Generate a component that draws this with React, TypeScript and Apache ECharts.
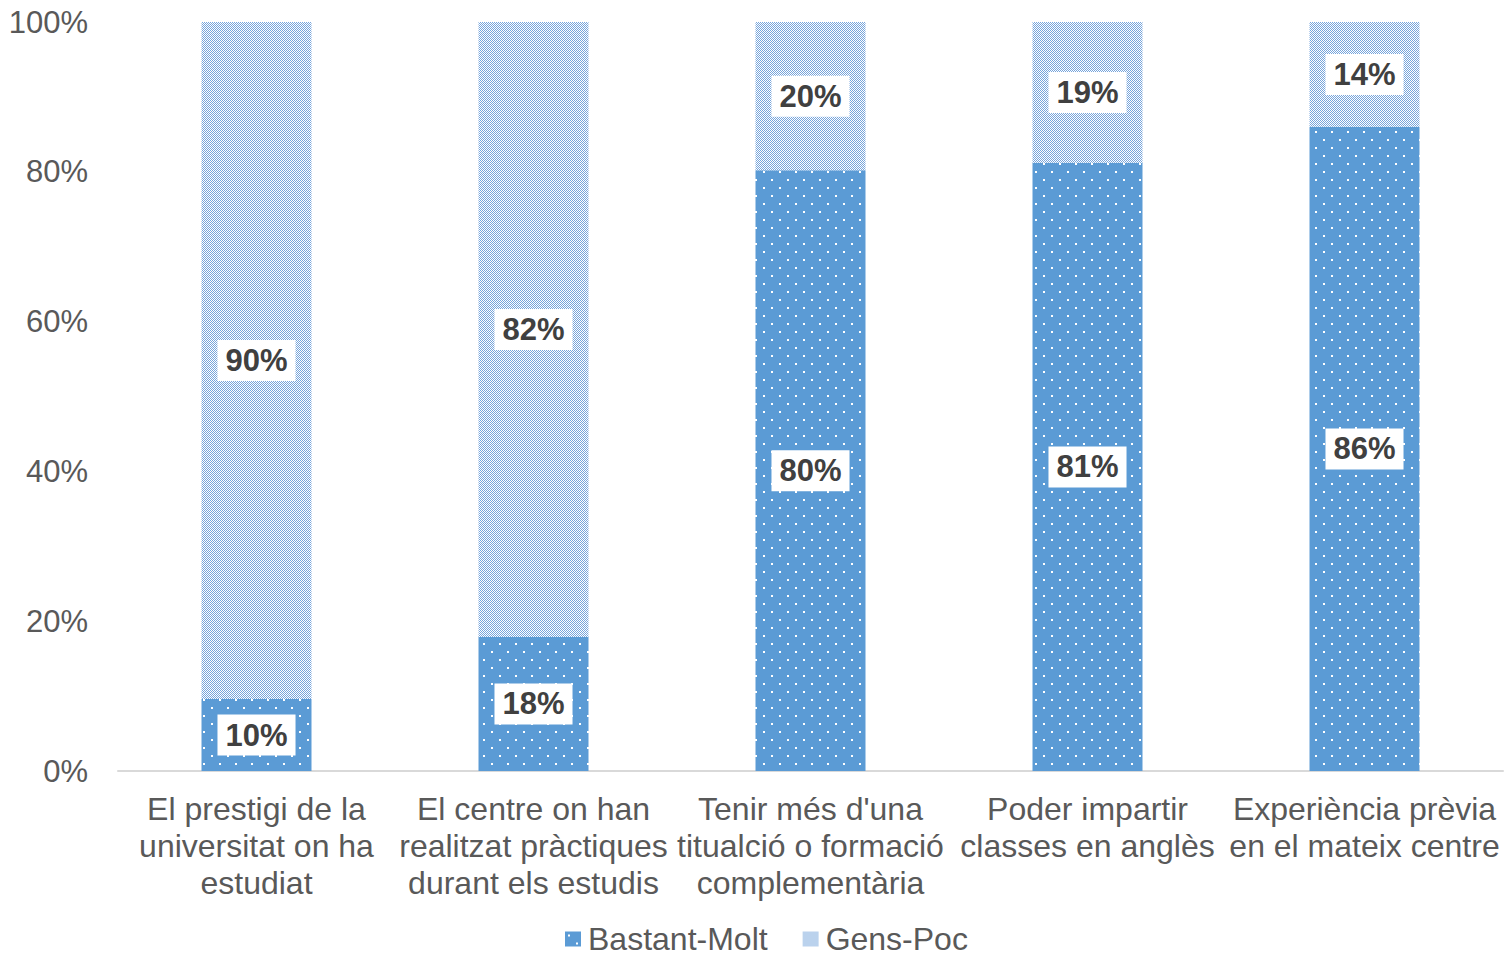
import React, { useEffect, useRef } from "react";
import * as echarts from "echarts";

const categories = [
  "El prestigi de la\nuniversitat on ha\nestudiat",
  "El centre on han\nrealitzat pràctiques\ndurant els estudis",
  "Tenir més d'una\ntitualció o formació\ncomplementària",
  "Poder impartir\nclasses en anglès",
  "Experiència prèvia\nen el mateix centre",
];
const seriesNames = ["Bastant-Molt", "Gens-Poc"];
const bastantMolt = [9.6, 17.9, 80.2, 81.2, 86.0];
const gensPoc = [90.4, 82.1, 19.8, 18.8, 14.0];
const yTicks = { min: 0, max: 100, interval: 20 };

function makeDots(): HTMLCanvasElement {
  const c = document.createElement("canvas");
  c.width = 16;
  c.height = 16;
  const ctx = c.getContext("2d")!;
  ctx.fillStyle = "#5B9BD5";
  ctx.fillRect(0, 0, 16, 16);
  ctx.fillStyle = "#ffffff";
  ctx.fillRect(3, 3, 2, 2);
  ctx.fillRect(11, 11, 2, 2);
  return c;
}

function makeChecker(): HTMLCanvasElement {
  const c = document.createElement("canvas");
  c.width = 2;
  c.height = 2;
  const ctx = c.getContext("2d")!;
  ctx.fillStyle = "#ffffff";
  ctx.fillRect(0, 0, 2, 2);
  ctx.fillStyle = "#76A4DB";
  ctx.fillRect(0, 0, 1, 1);
  ctx.fillRect(1, 1, 1, 1);
  return c;
}

const FONT = "'Liberation Sans', Arial, sans-serif";

export default function App() {
  const ref = useRef<HTMLDivElement>(null);
  useEffect(() => {
    document.body.style.margin = "0";
    if (!ref.current) return;
    const chart = echarts.init(ref.current, undefined, { renderer: "svg" });
    const dots = makeDots();
    const checker = makeChecker();
    const label = {
      show: true,
      position: "inside" as const,
      formatter: (p: any) => Math.round(p.value) + "%",
      backgroundColor: "#ffffff",
      padding: [5, 8],
      fontSize: 31,
      fontWeight: "bold" as const,
      color: "#404040",
      fontFamily: FONT,
    };
    chart.setOption({
      animation: false,
      textStyle: { fontFamily: FONT },
      grid: { left: 118, right: 2, top: 22, bottom: 186, containLabel: false },
      legend: {
        data: seriesNames,
        top: 923,
        left: 565,
        padding: 0,
        icon: "rect",
        itemWidth: 16,
        itemHeight: 15,
        itemGap: 35,
        textStyle: { fontSize: 32, lineHeight: 32, color: "#595959", fontFamily: FONT, padding: [0, 0, 0, 2] },
      },
      xAxis: {
        type: "category",
        data: categories,
        axisLine: { show: true, lineStyle: { color: "#D9D9D9", width: 2 } },
        axisTick: { show: false },
        axisLabel: {
          interval: 0,
          fontSize: 32,
          lineHeight: 37,
          color: "#595959",
          margin: 19,
          fontFamily: FONT,
        },
      },
      yAxis: {
        type: "value",
        min: yTicks.min,
        max: yTicks.max,
        interval: yTicks.interval,
        axisLine: { show: false },
        axisTick: { show: false },
        splitLine: { show: false },
        axisLabel: {
          formatter: "{value}%",
          fontSize: 31,
          color: "#595959",
          margin: 30,
          fontFamily: FONT,
        },
      },
      series: [
        {
          name: seriesNames[0],
          type: "bar",
          stack: "total",
          barWidth: 110,
          data: bastantMolt,
          itemStyle: {
            color: { image: dots, repeat: "repeat", imageWidth: 16, imageHeight: 16 },
          },
          label,
        },
        {
          name: seriesNames[1],
          type: "bar",
          stack: "total",
          barWidth: 110,
          data: gensPoc,
          itemStyle: {
            color: { image: checker, repeat: "repeat", imageWidth: 2, imageHeight: 2 },
          },
          label,
        },
      ],
    });
    return () => chart.dispose();
  }, []);
  return <div ref={ref} style={{ width: 1505, height: 957 }} />;
}
